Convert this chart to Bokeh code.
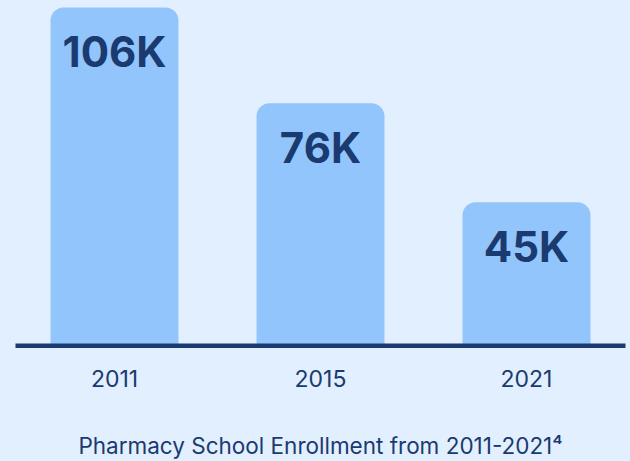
from bokeh.plotting import figure
from bokeh.models import Range1d, Span, FixedTicker
from bokeh.core.properties import value
from bokeh.embed import file_html
from bokeh.resources import INLINE

# Data
years = ["2011", "2015", "2021"]
enrollment_k = [106, 76, 45]
labels = ["106K", "76K", "45K"]
caption = "Pharmacy School Enrollment from 2011-2021\u2074"

BG = "#e2effe"
BAR = "#93c5fd"
NAVY = "#1a3a70"
FONT = "Inter"

idx = list(range(len(years)))

p = figure(width=630, height=461, output_backend="svg", toolbar_location=None,
           x_range=Range1d(-0.4806, 2.4806), y_range=Range1d(-1.5, 108.2),
           min_border_left=15, min_border_right=5, min_border_top=0, min_border_bottom=110)
p.background_fill_color = BG
p.border_fill_color = BG
p.outline_line_color = None
p.xgrid.visible = False
p.ygrid.visible = False
p.yaxis.visible = False

p.vbar(x=idx, top=enrollment_k, bottom=0, width=0.621, fill_color=BAR, line_color=None,
       border_radius=(13, 13, 0, 0))

p.text(x=idx, y=enrollment_k, text=labels, y_offset=44,
       text_align="center", text_baseline="middle",
       text_font=value(FONT), text_font_size="42px", text_font_style="bold",
       text_color=NAVY)

p.add_layout(Span(location=0, dimension="width", line_color=NAVY, line_width=4.5, line_cap="round"))

ax = p.xaxis[0]
ax.ticker = FixedTicker(ticks=idx)
ax.major_label_overrides = {i: y for i, y in zip(idx, years)}
ax.axis_line_color = None
ax.major_tick_line_color = None
ax.minor_tick_line_color = None
ax.major_tick_out = 0
ax.major_label_standoff = 19
ax.major_label_text_font = FONT
ax.major_label_text_font_size = "23px"
ax.major_label_text_color = NAVY
ax.axis_label = caption
ax.axis_label_standoff = 42
ax.axis_label_text_font = FONT
ax.axis_label_text_font_size = "22.5px"
ax.axis_label_text_font_style = "normal"
ax.axis_label_text_color = NAVY

html = file_html(p, INLINE)
html = html.replace("</head>", "<style>html,body{background:%s;}</style></head>" % BG, 1)
open("out.html", "w").write(html)
